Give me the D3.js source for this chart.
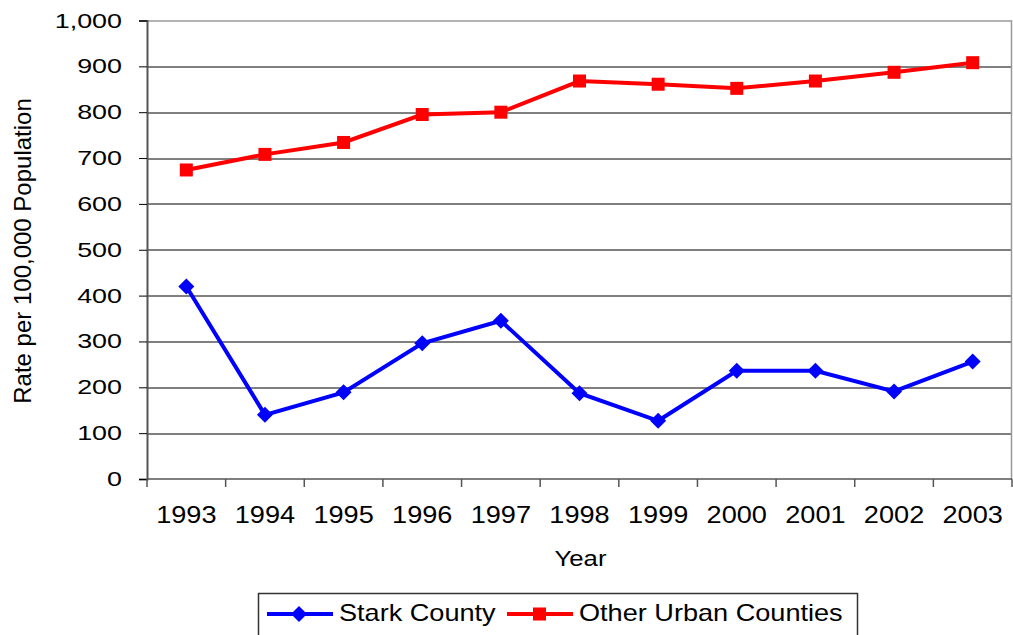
<!DOCTYPE html>
<html>
<head>
<meta charset="utf-8">
<script src="https://cdn.jsdelivr.net/npm/d3@7"></script>
<style>
  body { margin: 0; background: #fff; }
  text { font-family: 'Liberation Sans', Arial, sans-serif; fill: #000; }
</style>
</head>
<body>
<script>
const years = ['1993', '1994', '1995', '1996', '1997', '1998', '1999', '2000', '2001', '2002', '2003']
const stark = [420, 140, 189, 296, 345, 187, 127, 236, 236, 191, 256]
const otherUrban = [674, 708, 734, 795, 800, 868, 861, 852, 868, 887, 908]
const yTicks = [0, 100, 200, 300, 400, 500, 600, 700, 800, 900, 1000]

const W = 1013, H = 635
const margin = { top: 20.5, right: 1, bottom: 156, left: 147 }
const width = W - margin.left - margin.right
const height = H - margin.top - margin.bottom

const svg = d3.select('body').append('svg')
  .attr('width', W)
  .attr('height', H)

const g = svg.append('g')
  .attr('transform', `translate(${margin.left}, ${margin.top})`)

const xScale = d3.scaleBand().domain(years).range([0, width])
const yScale = d3.scaleLinear().domain([0, 1000]).range([height, 0])

// text drawn a bit wider than the font, like the original
const label = (sel, x, y, txt, size, stretch, anchor) => sel.append('text')
  .attr('transform', `translate(${x}, ${y}) scale(${stretch}, 1)`)
  .attr('text-anchor', anchor || 'start')
  .style('font-size', size + 'px')
  .text(txt)

// gridlines
g.append('g').selectAll('line')
  .data(yTicks.filter(d => d > 0 && d < 1000))
  .enter().append('line')
    .attr('x1', 0).attr('x2', width)
    .attr('y1', d => Math.round(yScale(d)) + 0.5)
    .attr('y2', d => Math.round(yScale(d)) + 0.5)
    .attr('stroke', '#000').attr('stroke-width', 1)

// plot border top/right
g.append('path')
  .attr('d', `M0,${Math.round(yScale(1000)) + 0.5}H${width - 0.5}V${height}`)
  .attr('fill', 'none').attr('stroke', '#999').attr('stroke-width', 1.5)

// y axis
const yAxis = d3.axisLeft(yScale)
  .tickValues(yTicks)
  .tickSize(8)
  .tickFormat('')
g.append('g')
  .attr('class', 'y axis')
  .call(yAxis)
  .call(s => s.select('.domain').attr('stroke', '#555').attr('stroke-width', 2))
  .call(s => s.selectAll('.tick line').attr('stroke', '#000'))
yTicks.forEach(t => label(g, -25, yScale(t) + 7, d3.format(',')(t), 21, 1.28, 'end'))

// x axis with ticks at category boundaries
const xAxisG = g.append('g')
  .attr('class', 'x axis')
  .attr('transform', `translate(0, ${height})`)
xAxisG.append('line')
  .attr('x1', 0).attr('x2', width)
  .attr('stroke', '#555').attr('stroke-width', 1.5)
xAxisG.selectAll('.bound')
  .data(years.concat(['end']))
  .enter().append('line')
    .attr('class', 'bound')
    .attr('x1', (d, i) => i < years.length ? xScale(d) : width)
    .attr('x2', (d, i) => i < years.length ? xScale(d) : width)
    .attr('y1', 0).attr('y2', 8)
    .attr('stroke', '#555').attr('stroke-width', 1.5)
years.forEach(y => label(xAxisG, xScale(y) + xScale.bandwidth() / 2, 44, y, 23, 1.18, 'middle'))

// axis titles
label(g, width / 2 + 1, height + 87, 'Year', 23, 1.12, 'middle')

svg.append('text')
  .attr('transform', 'translate(31, 251) rotate(-90)')
  .attr('text-anchor', 'middle')
  .style('font-size', '24px')
  .text('Rate per 100,000 Population')

const cx = i => xScale(years[i]) + xScale.bandwidth() / 2
const line = d3.line().x((d, i) => cx(i)).y(d => yScale(d))

// red series
g.append('path')
  .datum(otherUrban)
  .attr('d', line)
  .attr('fill', 'none').attr('stroke', '#ff0000').attr('stroke-width', 4)
g.selectAll('.sq')
  .data(otherUrban)
  .enter().append('rect')
    .attr('class', 'sq')
    .attr('x', (d, i) => cx(i) - 6.5)
    .attr('y', d => yScale(d) - 6.5)
    .attr('width', 13).attr('height', 13)
    .attr('fill', '#ff0000')

// blue series
g.append('path')
  .datum(stark)
  .attr('d', line)
  .attr('fill', 'none').attr('stroke', '#0000ff').attr('stroke-width', 4)
const diamond = 'M0,-8L8,0L0,8L-8,0Z'
g.selectAll('.dm')
  .data(stark)
  .enter().append('path')
    .attr('class', 'dm')
    .attr('transform', (d, i) => `translate(${cx(i)}, ${yScale(d)})`)
    .attr('d', diamond)
    .attr('fill', '#0000ff')

// legend
const legend = svg.append('g').attr('transform', 'translate(258, 593)')
legend.append('rect')
  .attr('x', 0.5).attr('y', 0.5)
  .attr('width', 599).attr('height', 50)
  .attr('fill', '#fff').attr('stroke', '#333').attr('stroke-width', 1.5)
const items = [
  { name: 'Stark County', color: '#0000ff', shape: 'diamond', x: 9 },
  { name: 'Other Urban Counties', color: '#ff0000', shape: 'square', x: 249 }
]
items.forEach(it => {
  const li = legend.append('g').attr('transform', `translate(${it.x}, 21)`)
  li.append('line').attr('x1', 0).attr('x2', 66).attr('stroke', it.color).attr('stroke-width', 4)
  if (it.shape === 'diamond') {
    li.append('path').attr('transform', 'translate(32,0)').attr('d', diamond).attr('fill', it.color)
  } else {
    li.append('rect').attr('x', 26).attr('y', -6.5).attr('width', 13).attr('height', 13).attr('fill', it.color)
  }
  label(li, 72, 7, it.name, 24, 1.13)
})
</script>
</body>
</html>
